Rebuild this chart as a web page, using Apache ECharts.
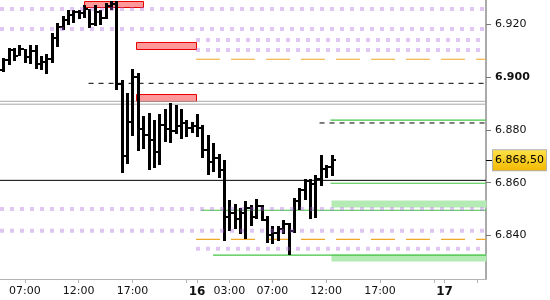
<!DOCTYPE html>
<html><head><meta charset="utf-8">
<script src="https://cdn.jsdelivr.net/npm/echarts@6/dist/echarts.min.js"></script>
<style>html,body{margin:0;padding:0;background:#fff}#c{width:550px;height:300px}</style>
</head><body><div id="c"></div>
<script>
// Trading-hour time axis: day 15 hh -> hh, day 16 hh -> 23+hh, day 17 hh -> 46+hh
const barTimes = [5,5.5,6,6.5,7,7.5,8,8.5,9,9.5,10,10.5,11,11.5,12,12.5,13,13.5,14,14.5,15,15.5,16,16.5,17,17.5,18,18.5,19,19.5,20,20.5,21,21.5,22,22.5,
  23,23.5,24,24.5,25,25.5,26,26.5,27,27.5,28,28.5,29,29.5,30,30.5,31,31.5,32,32.5,33,33.5,34,34.5,35,35.5];
const opens = [6.9026,6.9064,6.9102,6.9080,6.9104,6.9076,6.9098,6.9049,6.9058,6.9069,6.9146,6.9190,6.9215,6.9234,6.9246,6.9242,6.9256,6.9200,6.9245,6.9222,6.9268,6.9276,6.8973,6.8701,6.8830,6.9000,6.8803,6.8780,6.8762,6.8716,6.8818,6.8803,6.8796,6.8815,6.8826,6.8807,
  6.8815,6.8807,6.8724,6.8678,6.8694,6.8648,6.8471,6.8486,6.8463,6.8486,6.8505,6.8470,6.8512,6.8459,6.8403,6.8410,6.8425,6.8444,6.8418,6.8531,6.8573,6.8607,6.8595,6.8614,6.8652,6.8660];
const highs = [6.9070,6.9108,6.9108,6.9121,6.9104,6.9121,6.9121,6.9079,6.9087,6.9165,6.9203,6.9230,6.9253,6.9253,6.9253,6.9272,6.9256,6.9272,6.9253,6.9278,6.9287,6.9287,6.8988,6.8940,6.9030,6.9016,6.8852,6.8865,6.8837,6.8860,6.8879,6.8901,6.8894,6.8879,6.8837,6.8830,
  6.8860,6.8818,6.8780,6.8750,6.8709,6.8686,6.8535,6.8520,6.8505,6.8531,6.8516,6.8539,6.8516,6.8474,6.8437,6.8437,6.8459,6.8448,6.8542,6.8580,6.8614,6.8614,6.8629,6.8705,6.8667,6.8705];
const lows = [6.9016,6.9042,6.9060,6.9079,6.9051,6.9051,6.9029,6.9026,6.9011,6.9051,6.9114,6.9177,6.9196,6.9203,6.9218,6.9222,6.9184,6.9194,6.9196,6.9219,6.9253,6.8951,6.8638,6.8671,6.8777,6.8721,6.8726,6.8651,6.8657,6.8667,6.8754,6.8750,6.8784,6.8765,6.8773,6.8788,
  6.8773,6.8694,6.8629,6.8641,6.8618,6.8380,6.8418,6.8425,6.8406,6.8387,6.8437,6.8463,6.8456,6.8372,6.8369,6.8380,6.8406,6.8327,6.8410,6.8497,6.8535,6.8463,6.8467,6.8588,6.8618,6.8626];
const closes = [6.9064,6.9102,6.9080,6.9104,6.9076,6.9098,6.9049,6.9058,6.9069,6.9146,6.9190,6.9215,6.9234,6.9246,6.9242,6.9256,6.9200,6.9245,6.9222,6.9268,6.9276,6.8973,6.8701,6.8830,6.9000,6.8803,6.8780,6.8762,6.8716,6.8818,6.8803,6.8796,6.8815,6.8826,6.8807,6.8815,
  6.8807,6.8724,6.8678,6.8694,6.8648,6.8471,6.8486,6.8463,6.8486,6.8505,6.8470,6.8512,6.8459,6.8403,6.8410,6.8425,6.8444,6.8418,6.8531,6.8573,6.8607,6.8595,6.8614,6.8652,6.8660,6.8685];

const lastPrice = 6.8685;
const lastPriceText = '6.868,50';

const xTickValues  = [7,12,17,22,23,26,30,35,40,45,46,49];
const xLabelValues = [7,12,17,23,26,30,35,40,46];
const dayNames = ['15','16','17'];
const yLabelValues = [6.84,6.86,6.88,6.90,6.92];

const purpleLevels = [6.9257,6.9181,6.9140,6.9102,6.8501,6.8418,6.8350];
const purpleFrom   = [null,null,22.9,22.9,null,null,22.9];
const orangeLevels = [6.9067,6.8386];
const orangeFrom   = [22.9,22.9];
const blackDashLevels = [6.8976,6.8826];
const blackDashFrom   = [12.92,34.38];
const grayLevels  = [6.8908,6.8897];
const blackLevels = [6.8609];
const greenLevels = [6.8837,6.8598,6.8496,6.8326];
const greenFrom   = [35.4,35.4,23.38,24.49];
const greenZoneTop    = [6.8535,6.8330];
const greenZoneBottom = [6.8510,6.8305];
const greenZoneFrom   = [35.4,35.4];
const redZoneTop    = [6.9288,6.9131,6.8935];
const redZoneBottom = [6.9267,6.9104,6.8909];
const redZoneFrom   = [12.46,17.36,17.36];
const redZoneTo     = [18.01,23.0,23.0];

const X_MIN = 4.69, X_MAX = 49.85, Y_MIN = 6.8236, Y_MAX = 6.9291;
const FONT = 'DejaVu Sans';

function hLines(levels, froms, style, z) {
  return levels.map((v, i) => ({
    type: 'line', silent: true, symbol: 'none', z: z, animation: false,
    data: [[froms && froms[i] != null ? froms[i] : X_MIN, v], [X_MAX, v]],
    lineStyle: style
  }));
}
function zones(tops, bottoms, froms, tos, style, z) {
  return {
    type: 'custom', silent: true, z: z, animation: false, clip: true,
    data: tops.map((t, i) => [froms[i], tos ? tos[i] : X_MAX, t, bottoms[i]]),
    encode: { x: [0, 1], y: [2, 3] },
    renderItem: function (params, api) {
      const p1 = api.coord([api.value(0), api.value(2)]);
      const p2 = api.coord([api.value(1), api.value(3)]);
      return { type: 'rect', shape: { x: Math.round(p1[0]) + 0.5, y: Math.round(p1[1]) + 0.5, width: Math.round(p2[0] - p1[0]) - 1, height: Math.round(p2[1] - p1[1]) },
        style: style };
    }
  };
}

const ohlc = barTimes.map((t, i) => [t, opens[i], highs[i], lows[i], closes[i]]);

const chart = echarts.init(document.getElementById('c'), null, { renderer: 'canvas' });
const series = [];
series.push(zones(redZoneTop, redZoneBottom, redZoneFrom, redZoneTo, { fill: '#ff9898', stroke: '#e80000', lineWidth: 1 }, 1));
series.push(zones(greenZoneTop, greenZoneBottom, greenZoneFrom, null, { fill: '#b4eab4' }, 1));
series.push(...hLines(grayLevels, null, { color: '#a8a8a8', width: 1 }, 2));
series.push(...hLines(blackLevels, null, { color: '#000', width: 1 }, 2));
series.push(...hLines(orangeLevels, orangeFrom, { color: '#f0a828', width: 1.2, type: [24, 11] }, 2));
series.push(...hLines(blackDashLevels, blackDashFrom, { color: '#000', width: 1, type: [5, 5] }, 2));
series.push(...hLines(greenLevels, greenFrom, { color: '#40c440', width: 1.2 }, 2));
series.push({
  type: 'custom', name: 'USD/CNY', z: 5, animation: false, clip: true,
  data: ohlc,
  encode: { x: 0, y: [1, 2, 3, 4] },
  renderItem: function (params, api) {
    const t = api.value(0);
    const pH = api.coord([t, api.value(2)]);
    const pL = api.coord([t, api.value(3)]);
    const pO = api.coord([t, api.value(1)]);
    const pC = api.coord([t, api.value(4)]);
    const x = Math.round(pH[0]);
    return { type: 'group', children: [
      { type: 'rect', shape: { x: x - 1, y: Math.round(pH[1]), width: 3, height: Math.max(2, Math.round(pL[1] - pH[1])) }, style: { fill: '#000' } },
      { type: 'rect', shape: { x: x - 3, y: Math.round(pO[1]) - 1, width: 2, height: 2 }, style: { fill: '#000' } },
      { type: 'rect', shape: { x: x + 2, y: Math.round(pC[1]) - 1, width: 2, height: 2 }, style: { fill: '#000' } }
    ] };
  }
});
series.push(...hLines(purpleLevels, purpleFrom, { color: 'rgba(170,100,222,0.36)', width: 4, type: [4, 6], cap: 'butt' }, 6));

function xLabel(t) {
  let day = 0, h = t;
  if (t >= 46) { day = 2; h = t - 46; } else if (t >= 23) { day = 1; h = t - 23; }
  if (h === 0) return '{b|' + dayNames[day] + '}';
  return (h < 10 ? '0' : '') + h + ':00';
}

chart.setOption({
  backgroundColor: '#fff',
  animation: false,
  grid: { left: 0, right: 62, top: 0, bottom: 21, containLabel: false },
  xAxis: {
    type: 'value', min: X_MIN, max: X_MAX,
    axisLine: { show: true, lineStyle: { color: '#b4b4b4', width: 1 } },
    axisTick: { show: true, customValues: xTickValues, length: 4, lineStyle: { color: '#b4b4b4' } },
    axisLabel: { customValues: xLabelValues, formatter: xLabel, margin: 7, fontSize: 11, fontFamily: FONT, color: '#111',
      rich: { b: { fontWeight: 'bold', fontSize: 12, fontFamily: FONT, color: '#111' } } },
    splitLine: { show: false }
  },
  yAxis: [{
    type: 'value', position: 'right', min: Y_MIN, max: Y_MAX,
    axisLine: { show: true, lineStyle: { color: '#aaaaaa', width: 2 } },
    axisTick: { show: true, customValues: yLabelValues, length: 5, lineStyle: { color: '#777' } },
    axisLabel: { customValues: yLabelValues, margin: 9, fontSize: 11, fontFamily: FONT, color: '#111',
      formatter: v => Math.abs(v - 6.9) < 1e-9 ? '{b|' + v.toFixed(3) + '}' : v.toFixed(3),
      rich: { b: { fontWeight: 'bold', fontSize: 11, fontFamily: FONT, color: '#111' } } },
    splitLine: { show: false }
  }, {
    type: 'value', position: 'right', min: Y_MIN, max: Y_MAX,
    axisLine: { show: false },
    axisTick: { show: true, customValues: [lastPrice], length: 6, lineStyle: { color: '#000' } },
    axisLabel: { customValues: [lastPrice], margin: 7, fontSize: 11, fontFamily: FONT, color: '#000',
      formatter: () => lastPriceText,
      backgroundColor: new echarts.graphic.LinearGradient(0, 0, 0, 1, [{ offset: 0, color: '#ffe34a' }, { offset: 1, color: '#f2b800' }]),
      borderColor: '#b0b0b0', borderWidth: 1, padding: [5, 2, 4, 2] },
    splitLine: { show: false }
  }],
  series: series
});
</script></body></html>
